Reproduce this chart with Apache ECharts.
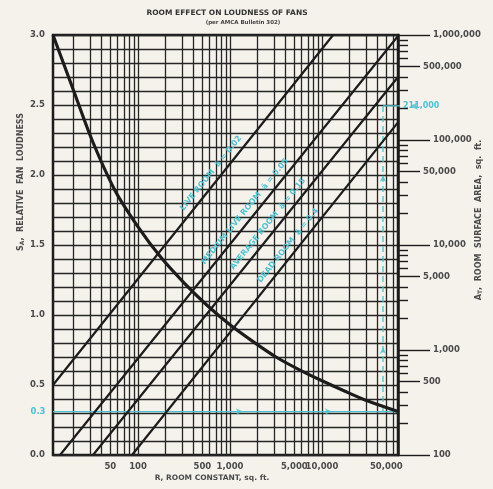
<!DOCTYPE html>
<html><head><meta charset="utf-8">
<script src="https://cdn.jsdelivr.net/npm/echarts@6/dist/echarts.min.js"></script>
<style>html,body{margin:0;padding:0;background:#f4f2eb;}#c{width:493px;height:489px;}</style>
</head><body><div id="c"></div>
<script>
// ---------- data ----------
const titleText = 'ROOM EFFECT ON LOUDNESS OF FANS';
const subtitleText = '(per AMCA Bulletin 302)';
const xName = 'R, ROOM CONSTANT, sq. ft.';
const leftName = ',  RELATIVE  FAN  LOUDNESS';
const rightName = ',  ROOM  SURFACE  AREA,  sq.  ft.';

const rMin = 11.9, rMax = 67000;
const rLabelTicks = [50, 100, 500, 1000, 5000, 10000, 50000];
const rGridLines = [20,30,40,50,60,70,80,90,100,200,300,400,500,600,700,800,900,1000,
  2000,3000,4000,5000,6000,7000,8000,9000,10000,20000,30000,40000,50000,60000];

const sMin = 0, sMax = 3, sStep = 0.5;

const aMin = 100, aMax = 1000000;
const aMajor = [100, 1000, 10000, 100000, 1000000];
const aHalf = [500, 5000, 50000, 500000];
const aMinor = [200,300,400,600,700,800,900,2000,3000,4000,6000,7000,8000,9000,
  20000,30000,40000,60000,70000,80000,90000,200000,300000,400000,600000,700000,800000,900000];

// relative loudness curve
const curveR = [11.9, 20, 31.6, 56.2, 100, 178, 316, 562, 1000, 1780, 3160, 5620, 10000, 17800, 31600, 67000];
const curveS = [3.00, 2.60, 2.25, 1.89, 1.63, 1.41, 1.23, 1.07, 0.93, 0.81, 0.70, 0.61, 0.53, 0.455, 0.385, 0.31];

// room lines (R vs A_T)
const liveR = [11.9, 13200],   liveA = [464, 1000000];
const medLiveR = [14.2, 67000], medLiveA = [100, 978000];
const avgR = [32.4, 67000],    avgA = [100, 398000];
const deadR = [86, 67000],     deadA = [100, 147000];
const roomLabels = ['LIVE ROOM  ā = 0.02', 'MEDIUM LIVE ROOM  ā = 0.05', 'AVERAGE ROOM  ā = 0.15', 'DEAD ROOM  ā = 0.4'];
const roomLabelAnchorR = [740, 1730, 3080, 5090];

// worked example (cyan)
const exampleS = 0.31, exampleSLabel = '0.3';
const exampleR = 46000;
const exampleAFrom = 257, exampleA = 211000, exampleALabel = '211,000';
const exampleLeaderEndR = 190000;
const exampleArrowR = [1380, 12800];
const exampleArrowA = [1070, 46400];
const exampleArrowLeaderR = 90600;

// ---------- chart ----------
const L = Math.log10;
const fmt = v => Math.round(Math.pow(10, v)).toLocaleString('en-US');
const ink = '#1c1c1c', txt = '#4b4b4b', cyan = '#4fc0cf';
const FONT = '"DejaVu Sans"';
const gridLine = {color: '#262626', width: 1.3};
const lbl = {color: txt, fontFamily: FONT, fontSize: 8.5, fontWeight: 'bold'};

const chart = echarts.init(document.getElementById('c'), null, {renderer: 'canvas'});
const pairs = (rs, vs, fy) => rs.map((r, i) => [L(r), fy(vs[i])]);

function rightAxis(vals, len, showLabel, margin, showLine) {
  return {
    type: 'value', position: 'right', min: L(aMin), max: L(aMax),
    axisLine: {show: showLine, lineStyle: {color: ink, width: 2.5}},
    axisTick: {show: true, inside: false, length: len, customValues: vals.map(L), lineStyle: {color: ink, width: 1.4}},
    axisLabel: Object.assign({show: showLabel, customValues: vals.map(L), formatter: fmt, margin: margin}, lbl),
    splitLine: {show: false}
  };
}

const roomSeries = [[liveR, liveA], [medLiveR, medLiveA], [avgR, avgA], [deadR, deadA]].map(([rs, as]) => ({
  type: 'line', xAxisIndex: 0, yAxisIndex: 1, data: pairs(rs, as, L),
  showSymbol: false, lineStyle: {color: ink, width: 2.2}, z: 4
}));

chart.setOption({
  animation: false,
  backgroundColor: '#f4f2eb',
  grid: {left: 53, right: 95, top: 35, bottom: 34, show: true, borderColor: ink, borderWidth: 2.5, backgroundColor: 'transparent'},
  xAxis: [{
    type: 'value', min: L(rMin), max: L(rMax),
    axisLine: {show: false},
    axisTick: {show: false, customValues: rGridLines.map(L)},
    axisLabel: Object.assign({customValues: rLabelTicks.map(L), formatter: fmt, margin: 7}, lbl),
    splitLine: {show: true, lineStyle: gridLine}
  }],
  yAxis: [
    {
      type: 'value', position: 'left', min: sMin, max: sMax, interval: sStep,
      axisLine: {show: false}, axisTick: {show: false},
      axisLabel: Object.assign({formatter: v => v.toFixed(1), margin: 8}, lbl),
      splitLine: {show: true, lineStyle: gridLine},
      minorTick: {show: false, splitNumber: 5},
      minorSplitLine: {show: true, lineStyle: gridLine}
    },
    rightAxis(aMajor, 32, true, 35, true),
    rightAxis(aHalf, 22, true, 25, false),
    rightAxis(aMinor, 10, false, 0, false)
  ],
  series: [
    {type: 'line', xAxisIndex: 0, yAxisIndex: 0, data: pairs(curveR, curveS, v => v),
     smooth: 0.3, showSymbol: false, lineStyle: {color: ink, width: 3.2}, z: 5},
    ...roomSeries,
    {type: 'line', xAxisIndex: 0, yAxisIndex: 0, data: [[L(rMin), exampleS], [L(rMax), exampleS]],
     showSymbol: false, lineStyle: {color: cyan, width: 1.3}, z: 3},
    {type: 'line', xAxisIndex: 0, yAxisIndex: 1, data: [[L(exampleR), L(exampleAFrom)], [L(exampleR), L(exampleA)]],
     showSymbol: false, lineStyle: {color: cyan, width: 1.3, type: [6, 4]}, z: 3},
    {type: 'line', xAxisIndex: 0, yAxisIndex: 1, clip: false,
     data: [[L(exampleR), L(exampleA)], [L(exampleLeaderEndR), L(exampleA)]],
     showSymbol: false, lineStyle: {color: cyan, width: 1.3}, z: 3,
     endLabel: {show: true, formatter: exampleALabel, color: cyan, fontFamily: FONT, fontSize: 8, fontWeight: 'bold', distance: 3}},
    {type: 'scatter', xAxisIndex: 0, yAxisIndex: 0, symbol: 'arrow', symbolSize: [5, 7], symbolRotate: -90,
     itemStyle: {color: cyan}, data: exampleArrowR.map(r => [L(r), exampleS]), z: 6},
    {type: 'scatter', xAxisIndex: 0, yAxisIndex: 1, symbol: 'arrow', symbolSize: [5, 7], symbolRotate: 0,
     itemStyle: {color: cyan}, data: exampleArrowA.map(a => [L(exampleR), L(a)]), z: 6},
    {type: 'scatter', xAxisIndex: 0, yAxisIndex: 1, symbol: 'arrow', symbolSize: [6, 8], symbolRotate: 90, clip: false,
     itemStyle: {color: cyan}, data: [[L(exampleArrowLeaderR), L(exampleA)]], z: 6}
  ]
});

// ---------- text annotations ----------
const g = [];
const t = (x, y, text, font, fill, rot, extra) => g.push({
  type: 'text', x: x, y: y, rotation: rot || 0, z: 20,
  style: Object.assign({text: text, font: font, fill: fill, align: 'center', verticalAlign: 'middle',
    textAlign: 'center', textVerticalAlign: 'middle'}, extra || {})
});

t(227, 13, titleText, 'bold 7.5px ' + FONT, '#333');
t(243, 22.5, subtitleText, 'bold 5.5px ' + FONT, '#444');
t(212, 478, xName, 'bold 7.5px ' + FONT, txt);
const richName = {a: {font: 'bold 8px ' + FONT, fill: txt}, b: {font: 'bold 6px ' + FONT, fill: txt, padding: [3, 0, 0, 0]}};
t(21, 182, '{a|S}{b|A}{a|' + leftName + '}', 'bold 8px ' + FONT, txt, Math.PI / 2, {rich: richName});
t(479, 220, '{a|A}{b|T}{a|' + rightName + '}', 'bold 8px ' + FONT, txt, Math.PI / 2, {rich: richName});

const pS = chart.convertToPixel({xAxisIndex: 0, yAxisIndex: 0}, [L(rMin), exampleS]);
t(pS[0] - 15, pS[1], exampleSLabel, 'bold 8.5px ' + FONT, cyan);

[[liveR, liveA], [medLiveR, medLiveA], [avgR, avgA], [deadR, deadA]].forEach(([rs, as], i) => {
  const p1 = chart.convertToPixel({xAxisIndex: 0, yAxisIndex: 1}, [L(rs[0]), L(as[0])]);
  const p2 = chart.convertToPixel({xAxisIndex: 0, yAxisIndex: 1}, [L(rs[1]), L(as[1])]);
  const dx = p2[0] - p1[0], dy = p2[1] - p1[1], len = Math.hypot(dx, dy);
  const ax = chart.convertToPixel({xAxisIndex: 0}, L(roomLabelAnchorR[i]));
  const f = (ax - p1[0]) / dx;
  const px = p1[0] + f * dx, py = p1[1] + f * dy;
  const off = 9;
  const nx = dy / len, ny = -dx / len;
  t(px + nx * off, py + ny * off, roomLabels[i], 'bold 8px ' + FONT, cyan, Math.atan2(-dy, dx));
});

chart.setOption({graphic: g});
</script></body></html>
